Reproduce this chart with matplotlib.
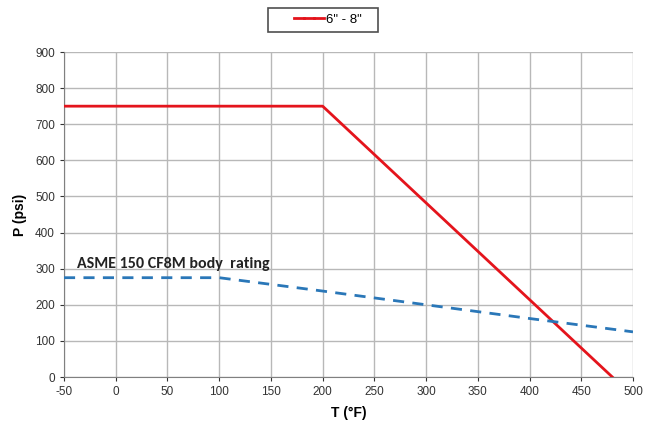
import matplotlib
matplotlib.use("Agg")
import matplotlib.pyplot as plt
from matplotlib.lines import Line2D
from matplotlib.legend_handler import HandlerTuple

plt.rcParams['font.family'] = ['Liberation Sans', 'DejaVu Sans']
plt.rcParams['axes.unicode_minus'] = False

red_t = [-50, 200, 480]
red_p = [750, 750, 0]
red_label = '6" - 8"'

asme_t = [-50, 100, 200, 300, 400, 500]
asme_p = [275, 275, 238, 200, 162, 125]
asme_label = "ASME 150 CF8M body  rating"

xticks = list(range(-50, 501, 50))
yticks = list(range(0, 901, 100))

fig = plt.figure(figsize=(6.45, 4.25), dpi=100)
ax = fig.add_axes([64/645, 1-377/425, (633-64)/645, (377-52)/425])

red_line, = ax.plot(red_t, red_p, color='#e4141c', lw=2.0, zorder=3)
ax.plot(asme_t, asme_p, color='#2a77b8', lw=2.0, ls=(0, (4, 3)), zorder=3)

ax.text(-37, 303, asme_label, fontsize=11.5, fontweight='bold', color='#222222',
        family=['Carlito', 'Liberation Sans', 'DejaVu Sans'])

ax.set_xlim(-50, 500)
ax.set_ylim(0, 900)
ax.set_xticks(xticks)
ax.set_yticks(yticks)
ax.tick_params(labelsize=8.5, colors='#333333', length=3, width=0.8)
ax.grid(True, color='#b8b8b8', lw=1.0)
ax.set_axisbelow(True)
for s in ['top', 'right']:
    ax.spines[s].set_visible(False)
for s in ['left', 'bottom']:
    ax.spines[s].set_color('#808080')

ax.set_xlabel('T (°F)', fontsize=10, fontweight='bold', labelpad=6)
ax.set_ylabel('P (psi)', fontsize=10, fontweight='bold', labelpad=6)

blank = Line2D([], [], color='none')
handle = (blank, blank, red_line, red_line, red_line)
leg = fig.legend([handle], [red_label + '   '], loc='center',
                 bbox_to_anchor=(323/645, 1-20/425), frameon=True,
                 fancybox=False, fontsize=9.5, handlelength=3.8, borderpad=0.45,
                 handletextpad=0.15,
                 handler_map={tuple: HandlerTuple(ndivide=None, pad=0)})
leg.get_frame().set_edgecolor('#222222')
leg.get_frame().set_linewidth(1.2)

fig.savefig('out.png', dpi=100)
